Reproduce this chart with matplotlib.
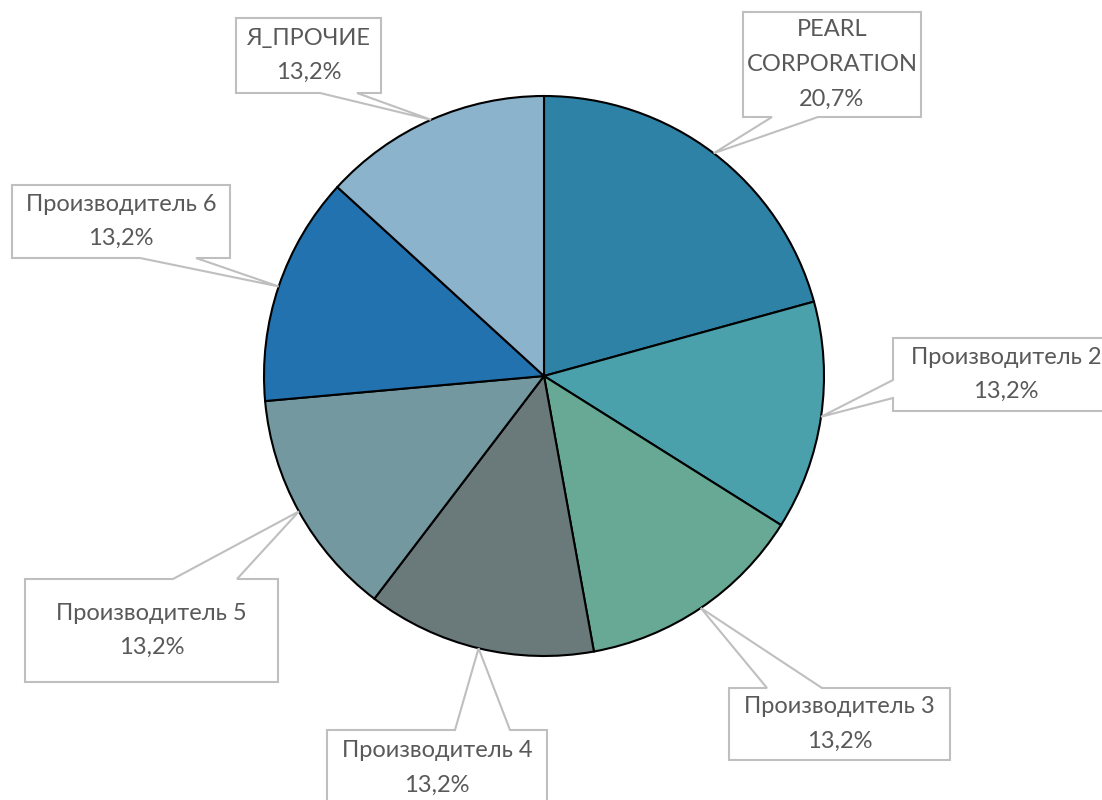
import numpy as np
import matplotlib
matplotlib.use("Agg")
from matplotlib import pyplot as plt
from matplotlib.patches import Polygon

# data
labels = ["PEARL\nCORPORATION", "Производитель 2", "Производитель 3", "Производитель 4",
          "Производитель 5", "Производитель 6", "Я_ПРОЧИЕ"]
shares = [20.7, 13.2, 13.2, 13.2, 13.2, 13.2, 13.2]
colors = ["#2E82A5", "#4AA1AC", "#67A994", "#6A7A7B", "#73989F", "#2272AF", "#8BB3CC"]

W, H = 1102, 800
CX, CY, R = 544, 376, 280  # pie centre / radius in image pixels

# callout boxes in image pixels: (x0, y0, x1, y1), side of tail, tail base a, b
boxes = [
    ((743, 12, 921, 117), "bottom", 772, 818),
    ((893, 338, 1115, 411), "left", 380, 398),
    ((729, 688, 950, 760), "top", 767, 822),
    ((327, 730, 547, 815), "top", 455, 510),
    ((25, 579, 278, 682), "top", 173, 237),
    ((12, 185, 230, 258), "bottom", 140, 196),
    ((236, 18, 381, 93), "bottom", 320, 357),
]


def fy(y):
    return H - y


fig = plt.figure(figsize=(W / 100, H / 100), dpi=100)
ax = fig.add_axes([0, 0, 1, 1])
ax.set_xlim(0, W)
ax.set_ylim(0, H)
ax.set_aspect("equal")
ax.axis("off")

wedges, _ = ax.pie(shares, colors=colors, startangle=90, counterclock=False,
                   center=(CX, fy(CY)), radius=R, normalize=True,
                   wedgeprops=dict(edgecolor="black", linewidth=1.5))
ax.set_xlim(0, W)
ax.set_ylim(0, H)

edge = "#BFBFBF"
for w, lab, val, (box, side, a, b) in zip(wedges, labels, shares, boxes):
    ang = np.deg2rad((w.theta1 + w.theta2) / 2)
    tip = (CX + R * np.cos(ang), fy(CY) + R * np.sin(ang))
    x0, y0, x1, y1 = box
    top, bot = fy(y0), fy(y1)
    if side == "bottom":
        pts = [(x0, top), (x1, top), (x1, bot), (b, bot), tip, (a, bot), (x0, bot)]
    elif side == "top":
        pts = [(x0, top), (a, top), tip, (b, top), (x1, top), (x1, bot), (x0, bot)]
    else:  # left
        pts = [(x0, top), (x1, top), (x1, bot), (x0, bot), (x0, fy(b)), tip, (x0, fy(a))]
    ax.add_patch(Polygon(pts, closed=True, facecolor="white", edgecolor=edge,
                         linewidth=1.5, zorder=3))
    txt = lab + "\n" + f"{val:.1f}%".replace(".", ",")
    tx = (x0 + x1) / 2 if side != "left" else 1006
    ty = (top + bot) / 2 if lab != "Производитель 4" else fy(768)
    ax.text(tx, ty, txt, ha="center", va="center", fontsize=17, color="#595959",
            family="Lato", linespacing=1.8, zorder=4)

fig.savefig("out.png", dpi=100)
